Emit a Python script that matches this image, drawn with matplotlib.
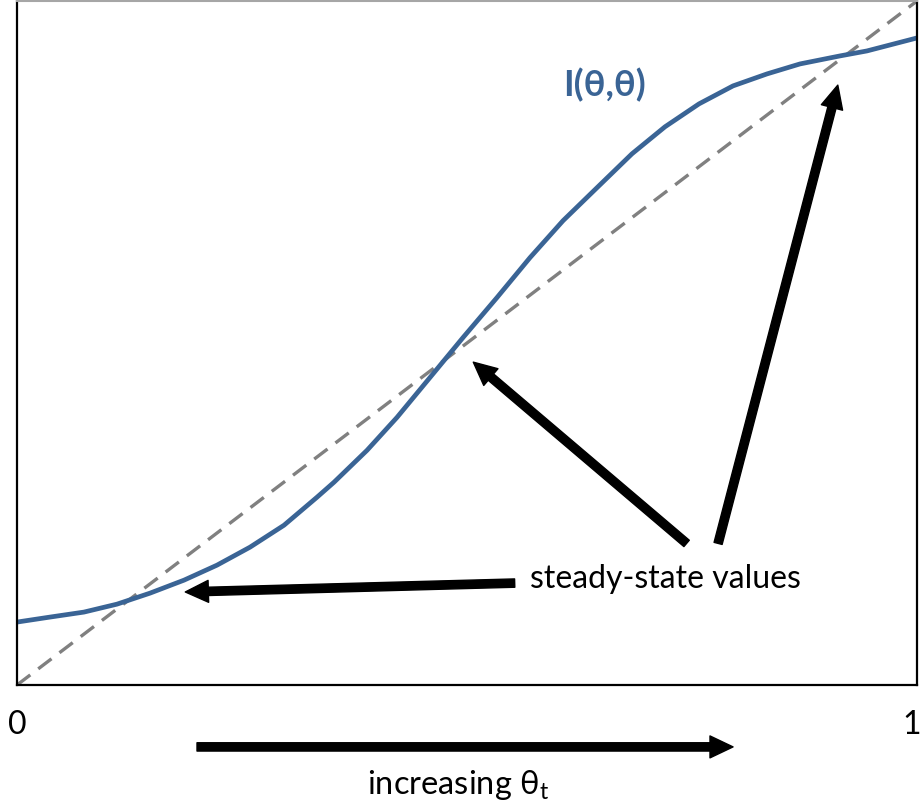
import numpy as np
from matplotlib import pyplot as plt

plt.rcParams['font.family'] = ['Lato', 'DejaVu Sans']

# curve I(theta, theta)
theta = np.array([0.0, 0.0367, 0.0744, 0.1111, 0.1478, 0.1856, 0.2222, 0.2589,
                  0.2967, 0.3333, 0.3522, 0.3889, 0.4222, 0.4589, 0.4956, 0.5333,
                  0.5700, 0.6067, 0.6444, 0.6833, 0.7200, 0.7578, 0.7956, 0.8333,
                  0.8700, 0.9144, 0.9444, 1.0])
I_val = np.array([0.092, 0.0993, 0.1066, 0.1182, 0.1343, 0.1533, 0.1752, 0.2015,
                  0.2336, 0.2745, 0.2964, 0.3431, 0.3912, 0.4496, 0.5080, 0.5664,
                  0.6248, 0.6788, 0.7270, 0.7766, 0.8161, 0.8496, 0.8759, 0.8934,
                  0.9080, 0.9197, 0.9270, 0.9460])
diag = np.array([0.0, 1.0])

# arrows: (tail, tip) in data coords
ss_arrows = [((0.553, 0.149), (0.187, 0.136)),
             ((0.744, 0.207), (0.507, 0.472)),
             ((0.779, 0.207), (0.912, 0.877))]
inc_arrow = ((0.200, -0.0905), (0.7956, -0.0905))

blue = '#3A6495'
fs = 23

fig = plt.figure(figsize=(9.24, 8.07), dpi=100)
ax = fig.add_axes([17/924, 1 - 685/807, 900/924, 684/807])

ax.plot(diag, diag, '--', color='#808080', lw=2.4, dashes=(5, 3))
ax.plot(theta, I_val, color=blue, lw=3.4, solid_joinstyle='round')

ax.set_xlim(0, 1)
ax.set_ylim(0, 1)
ax.set_xticks([])
ax.set_yticks([])
for s in ['left', 'right', 'bottom']:
    ax.spines[s].set_linewidth(1.6)
    ax.spines[s].set_color('black')
ax.spines['top'].set_color('#A6A6A6')
ax.spines['top'].set_linewidth(1.5)

astyle = dict(arrowstyle='simple,head_width=1.58,head_length=1.66,tail_width=0.6',
              mutation_scale=10, color='black', shrinkA=0, shrinkB=0)
for tail, tip in ss_arrows:
    ax.annotate('', xy=tip, xytext=tail, arrowprops=astyle, annotation_clip=False)
ax.annotate('', xy=inc_arrow[1], xytext=inc_arrow[0], arrowprops=astyle,
            annotation_clip=False)

ax.text(0.570, 0.1416, 'steady-state values', fontsize=fs, ha='left', va='baseline')
ax.text(0.607, 0.877, 'I(θ,θ)', fontsize=26, fontweight='bold', color=blue,
        ha='left', va='center')
ax.text(0.0, -0.058, '0', fontsize=fs, ha='center', va='center', clip_on=False)
ax.text(0.994, -0.058, '1', fontsize=fs, ha='center', va='center', clip_on=False)
ax.text(0.490, -0.146, r'increasing θ$_\mathregular{t}$', fontsize=23.5,
        ha='center', va='center', clip_on=False)

fig.savefig('out.png', dpi=100)
